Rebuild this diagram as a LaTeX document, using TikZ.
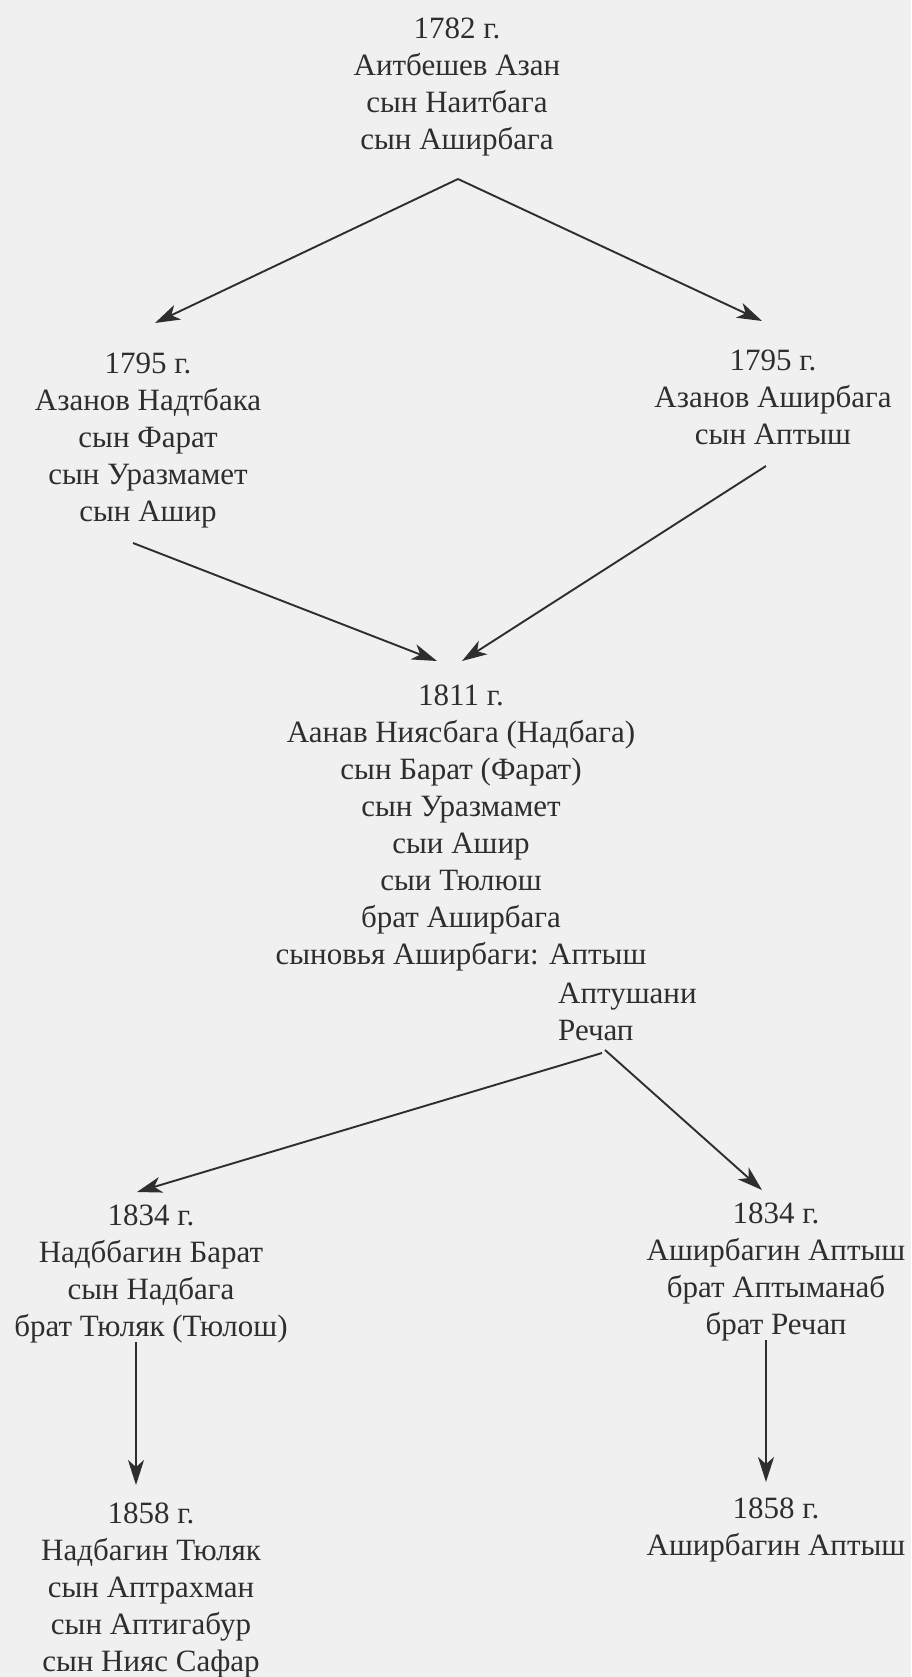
\documentclass[tikz,border=0pt]{standalone}
\usepackage{fontspec}
\setmainfont{Liberation Serif}
\newfontfamily\serifru{Liberation Serif}
\usetikzlibrary{arrows.meta}
\definecolor{bg}{HTML}{F0F0F0}
\definecolor{ink}{HTML}{2E2E2E}
\begin{document}
\begin{tikzpicture}[x=1pt,y=-1pt,
  lbl/.style={align=center,anchor=north,inner sep=0pt,font=\serifru\fontsize{31}{37}\selectfont,text=ink},
  arr/.style={draw=ink,line width=1.9pt,-{Stealth[length=25pt,width=16pt,inset=7pt]}}]
\fill[bg] (0,0) rectangle (911,1677);
\useasboundingbox (0,0) rectangle (911,1677);
% nodes
\node[lbl] (n1782) at (457,18) {1782 г.\\Аитбешев Азан\\сын Наитбага\\сын Аширбага};
\node[lbl] (n1795a) at (148,353) {1795 г.\\Азанов Надтбака\\сын Фарат\\сын Уразмамет\\сын Ашир};
\node[lbl] (n1795b) at (773,350) {1795 г.\\Азанов Аширбага\\сын Аптыш};
\node[lbl] (n1811) at (461,685) {1811 г.\\Аанав Ниясбага (Надбага)\\сын Барат (Фарат)\\сын Уразмамет\\сыи Ашир\\сыи Тюлюш\\брат Аширбага\\сыновья Аширбаги: Аптыш};
\node[lbl,align=left,anchor=north west] (n1811b) at (558,983) {Аптушани\\Речап};
\node[lbl] (n1834a) at (151,1205) {1834 г.\\Надббагин Барат\\сын Надбага\\брат Тюляк (Тюлош)};
\node[lbl] (n1834b) at (776,1203) {1834 г.\\Аширбагин Аптыш\\брат Аптыманаб\\брат Речап};
\node[lbl] (n1858a) at (151,1503) {1858 г.\\Надбагин Тюляк\\сын Аптрахман\\сын Аптигабур\\сын Нияс Сафар};
\node[lbl] (n1858b) at (776,1498) {1858 г.\\Аширбагин Аптыш};
% connector end points
\coordinate (c1782) at (458,179);
\coordinate (i1795a) at (155,323);
\coordinate (i1795b) at (762,321);
\coordinate (o1795a) at (133,543);
\coordinate (o1795b) at (766,466);
\coordinate (i1811a) at (437,661);
\coordinate (i1811b) at (462,661);
\coordinate (o1811a) at (602,1053);
\coordinate (o1811b) at (605,1050);
\coordinate (i1834a) at (137,1192);
\coordinate (i1834b) at (762,1190);
\coordinate (o1834a) at (136,1342);
\coordinate (o1834b) at (766,1340);
\coordinate (i1858a) at (136,1485);
\coordinate (i1858b) at (766,1482);
% connectors
\draw[arr] (c1782) -- (i1795a);
\draw[arr] (c1782) -- (i1795b);
\draw[arr] (o1795a) -- (i1811a);
\draw[arr] (o1795b) -- (i1811b);
\draw[arr] (o1811a) -- (i1834a);
\draw[arr] (o1811b) -- (i1834b);
\draw[arr] (o1834a) -- (i1858a);
\draw[arr] (o1834b) -- (i1858b);
\end{tikzpicture}
\end{document}
